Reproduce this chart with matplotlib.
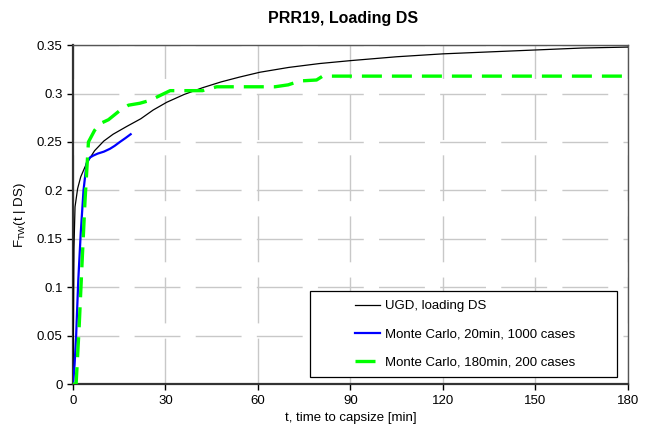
import numpy as np
import matplotlib
matplotlib.use("Agg")
import matplotlib.pyplot as plt
from matplotlib.patches import Rectangle

plt.rcParams['font.family'] = ['Liberation Sans', 'DejaVu Sans']

# UGD, loading DS
ugd_t = [0, 0.3, 0.65, 1.5, 2.5, 4.4, 7, 10, 13, 17.4, 22, 26, 30.4, 36, 42, 48, 54, 60.6,
         70, 80, 90, 105, 120, 135, 150, 165, 180]
ugd_v = [0, 0.14, 0.183, 0.202, 0.214, 0.228, 0.241, 0.251, 0.258, 0.266, 0.274, 0.283, 0.291,
         0.299, 0.306, 0.312, 0.317, 0.322, 0.327, 0.331, 0.334, 0.338, 0.341, 0.343, 0.345,
         0.347, 0.348]

# Monte Carlo, 20 min, 1000 cases
mc20_t = [0, 0.5, 1.0, 1.7, 2.5, 3.4, 4.4, 5.5, 6.6, 8, 10, 12, 13.5, 15.2, 17, 18.7]
mc20_v = [0, 0.02, 0.049, 0.107, 0.156, 0.2, 0.228, 0.234, 0.236, 0.238, 0.240, 0.243,
          0.246, 0.25, 0.254, 0.258]

# Monte Carlo, 180 min, 200 cases
mc180_t = [0, 1.0, 2.0, 3.0, 3.9, 5.0, 7, 8.8, 11.5, 15, 18, 21.7, 25, 27.6, 31.5, 42,
           46.6, 60.6, 65.5, 69.8, 73.6, 79, 81, 120, 180]
mc180_v = [0, 0.0, 0.06, 0.13, 0.19, 0.25, 0.262, 0.269, 0.273, 0.282, 0.288, 0.29, 0.293,
           0.297, 0.303, 0.303, 0.307, 0.307, 0.307, 0.309, 0.313, 0.314, 0.318, 0.318, 0.318]

x_ticks = [0, 30, 60, 90, 120, 150, 180]
y_ticks = [0, 0.05, 0.1, 0.15, 0.2, 0.25, 0.3, 0.35]
y_labels = ['0', '0.05', '0.1', '0.15', '0.2', '0.25', '0.3', '0.35']

fig = plt.figure(figsize=(6.52, 4.34), dpi=100)
ax = fig.add_axes([0.112, 0.115, 0.851, 0.781])

ax.plot(ugd_t, ugd_v, color='black', lw=0.9, label='UGD, loading DS', zorder=3)
ax.plot(mc20_t, mc20_v, color='#0000ff', lw=1.6, label='Monte Carlo, 20min, 1000 cases', zorder=4)
ax.plot(mc180_t, mc180_v, color='#00ff00', lw=2.4, dashes=(6.0, 3.0),
        label='Monte Carlo, 180min, 200 cases', zorder=5)

ax.set_xlim(0, 180)
ax.set_ylim(0, 0.35)
ax.set_xticks(x_ticks)
ax.set_yticks(y_ticks)
ax.set_yticklabels(y_labels)
ax.tick_params(labelsize=9.5, direction='out', length=4, width=1)
ax.grid(True, color='#c8c8c8', lw=1, dashes=(33, 11))

for s in ['left', 'bottom']:
    ax.spines[s].set_linewidth(1.6)
    ax.spines[s].set_color('#333333')
for s in ['top', 'right']:
    ax.spines[s].set_linewidth(1)
    ax.spines[s].set_color('#555555')

fig.text(343 / 652, 1 - 19 / 434, 'PRR19, Loading DS', fontsize=11.5, fontweight='bold',
         ha='center', va='center')
ax.set_xlabel('t, time to capsize [min]', fontsize=9.5)
ax.set_ylabel(r'F$_{\mathregular{TW}}$(t | DS)', fontsize=9.5, labelpad=6)

# legend box drawn separately (wide Excel-style padding)
box = Rectangle((0.427, 0.021), 0.553, 0.253, transform=ax.transAxes, facecolor='white',
                edgecolor='black', lw=0.9, zorder=6)
ax.add_patch(box)
leg = ax.legend(loc='center left', bbox_to_anchor=(0.496, 0.1475), fontsize=9.5,
                frameon=False, labelspacing=1.2, handlelength=1.9, handletextpad=0.4,
                borderpad=0.0)
leg.set_zorder(7)

fig.savefig('out.png', dpi=100)
